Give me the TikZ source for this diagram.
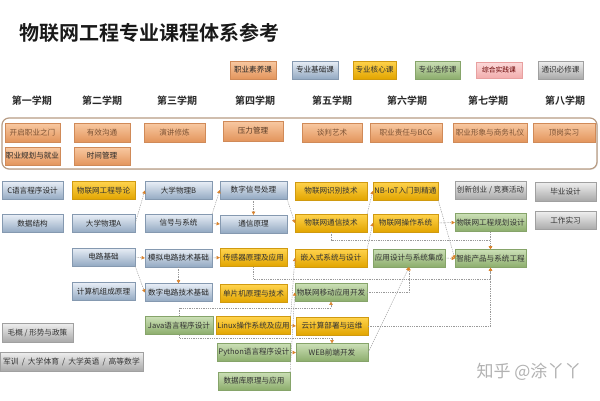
\documentclass[tikz,border=0pt]{standalone}
\usepackage{fontspec}
\newfontfamily\cjk{Noto Sans CJK SC}
\newfontfamily\cjkb{Noto Sans CJK SC Bold}
\usetikzlibrary{arrows.meta,shadows,calc}
\definecolor{blueT}{HTML}{E8EEF6}\definecolor{blueB}{HTML}{93A9C2}\definecolor{blueD}{HTML}{8599B0}
\definecolor{goldT}{HTML}{FFD34D}\definecolor{goldB}{HTML}{E2A500}\definecolor{goldD}{HTML}{D09A10}
\definecolor{greenT}{HTML}{CBDFB6}\definecolor{greenB}{HTML}{8CAD6C}\definecolor{greenD}{HTML}{86A46A}
\definecolor{grayT}{HTML}{EFEFEF}\definecolor{grayB}{HTML}{A9A9A9}\definecolor{grayD}{HTML}{A0A0A0}
\definecolor{oraT}{HTML}{F8C9A2}\definecolor{oraB}{HTML}{E3955C}\definecolor{oraD}{HTML}{D08A58}
\definecolor{pinkT}{HTML}{FCDADA}\definecolor{pinkB}{HTML}{F2ADAD}\definecolor{pinkD}{HTML}{E8A0A0}
\definecolor{frameC}{HTML}{B89C84}
\definecolor{arrC}{HTML}{D9822B}
\begin{document}
\begin{tikzpicture}[x=1pt,y=-1pt,
  base/.style={font=\cjk\fontsize{7.6}{8.5}\selectfont, inner sep=0.8pt, minimum height=18pt, line width=0.35pt,
    drop shadow={shadow xshift=0.8pt,shadow yshift=-0.8pt,opacity=0.25}},
  bluebox/.style={base, top color=blueT, bottom color=blueB, draw=blueD, text=black!85},
  goldbox/.style={base, top color=goldT, bottom color=goldB, draw=goldD, text=black!80},
  greenbox/.style={base, top color=greenT, bottom color=greenB, draw=greenD, text=black!80},
  graybox/.style={base, top color=grayT, bottom color=grayB, draw=grayD, text=black!80},
  orabox/.style={base, top color=oraT, bottom color=oraB, draw=oraD, text=black!85},
  fadetext/.style={text=black!40!oraD},
  legend/.style={base, font=\cjk\fontsize{6.8}{7.5}\selectfont, minimum height=16pt},
  sem/.style={font=\cjkb\fontsize{10}{11}\selectfont, text=black!85},
  con/.style={draw=black!40, line width=0.45pt, dash pattern=on 1.3pt off 1pt,
    -{Triangle[length=3.2pt,width=3.4pt,color=arrC]}},
  framebox/.style={draw=frameC, line width=1.2pt, rounded corners=7pt, fill=white,
    drop shadow={shadow xshift=0.8pt,shadow yshift=-0.8pt,opacity=0.2}}
]
\useasboundingbox[fill=white] (0,0) rectangle (600,400);

% title
\node[anchor=west, font=\cjkb\fontsize{20}{22}\selectfont, text=black!90] (title) at (16,33) {物联网工程专业课程体系参考};

% legend
\node[legend, orabox, minimum width=46pt] (l1) at (253,70) {职业素养课};
\node[legend, bluebox, minimum width=46pt] (l2) at (315,70) {专业基础课};
\node[legend, goldbox, minimum width=43pt] (l3) at (374.5,70) {专业核心课};
\node[legend, greenbox, minimum width=45pt] (l4) at (437.5,70) {专业选修课};
\node[legend, top color=pinkT, bottom color=pinkB, draw=pinkD, text=black!60!red, minimum width=46pt] (l5) at (499,70) {综合实践课};
\node[legend, graybox, minimum width=45pt] (l6) at (560.5,70) {通识必修课};

% semesters
\node[sem] (s1) at (32,101) {第一学期};
\node[sem] (s2) at (102,101) {第二学期};
\node[sem] (s3) at (177,101) {第三学期};
\node[sem] (s4) at (255,101) {第四学期};
\node[sem] (s5) at (332,101) {第五学期};
\node[sem] (s6) at (407,101) {第六学期};
\node[sem] (s7) at (488,101) {第七学期};
\node[sem] (s8) at (565,101) {第八学期};

% professional quality frame
\node[framebox, minimum width=595pt, minimum height=51pt] (frame) at (299.5,143.5) {};
\node[orabox, fadetext, minimum width=55pt, minimum height=19pt] (o1) at (32.5,132.5) {开启职业之门};
\node[orabox, fadetext, minimum width=56pt, minimum height=19pt] (o2) at (102,132.5) {有效沟通};
\node[orabox, fadetext, minimum width=61pt, minimum height=19pt] (o3) at (174.5,132.5) {演讲修炼};
\node[orabox, text=black!60!oraD, minimum width=60pt, minimum height=20pt] (o4) at (253,131) {压力管理};
\node[orabox, fadetext, minimum width=60pt, minimum height=19pt] (o5) at (332,132.5) {谈判艺术};
\node[orabox, fadetext, minimum width=72pt, minimum height=19pt] (o6) at (406,132.5) {职业责任与BCG};
\node[orabox, fadetext, minimum width=74pt, minimum height=19pt] (o7) at (490,132.5) {职业形象与商务礼仪};
\node[orabox, fadetext, minimum width=62pt, minimum height=19pt] (o8) at (564,132.5) {顶岗实习};
\node[orabox, minimum width=55pt] (o9) at (32.5,156) {职业规划与就业};
\node[orabox, minimum width=56pt] (o10) at (102,156) {时间管理};

% courses
\node[bluebox, minimum width=61pt] (c1) at (32.5,190.5) {C语言程序设计};
\node[bluebox, minimum width=61pt] (ds) at (32.5,223.5) {数据结构};
\node[goldbox, minimum width=63pt] (intro) at (103.5,190.5) {物联网工程导论};
\node[bluebox, minimum width=63pt] (phyA) at (103.5,223.5) {大学物理A};
\node[bluebox, minimum width=63pt] (circ) at (103.5,257) {电路基础};
\node[bluebox, minimum width=63pt] (coa) at (103.5,291.5) {计算机组成原理};
\node[bluebox, minimum width=67pt] (phyB) at (178.5,190.5) {大学物理B};
\node[bluebox, minimum width=67pt] (sig) at (178.5,223) {信号与系统};
\node[bluebox, minimum width=67pt] (ana) at (178.5,258) {模拟电路技术基础};
\node[bluebox, minimum width=67pt] (dig) at (178.5,292.5) {数字电路技术基础};
\node[bluebox, minimum width=67pt] (dsp) at (253.5,190) {数字信号处理};
\node[bluebox, minimum width=67pt] (comm) at (253.5,224) {通信原理};
\node[goldbox, minimum width=67pt] (sensor) at (253.5,257.5) {传感器原理及应用};
\node[goldbox, minimum width=67pt] (mcu) at (253.5,293.5) {单片机原理与技术};
\node[greenbox, minimum width=68pt] (java) at (179,325.5) {Java语言程序设计};
\node[goldbox, minimum width=73pt] (linux) at (253.5,325.5) {Linux操作系统及应用};
\node[greenbox, minimum width=72pt] (python) at (254,352.5) {Python语言程序设计};
\node[greenbox, minimum width=72pt] (db) at (254,381) {数据库原理与应用};
\node[goldbox, minimum width=72pt] (rfid) at (331,191) {物联网识别技术};
\node[goldbox, minimum width=72pt] (iotc) at (331,223) {物联网通信技术};
\node[goldbox, minimum width=72pt] (emb) at (331,258) {嵌入式系统与设计};
\node[greenbox, minimum width=72pt] (mobile) at (331,292.5) {物联网移动应用开发};
\node[goldbox, minimum width=72pt] (cloud) at (332,326) {云计算部署与运维};
\node[greenbox, minimum width=72pt] (web) at (332,352.5) {WEB前端开发};
\node[goldbox, minimum width=65pt] (nb) at (405.5,191) {NB-IoT入门到精通};
\node[goldbox, minimum width=65pt] (os) at (405.5,223) {物联网操作系统};
\node[greenbox, minimum width=72pt] (app) at (409,258) {应用设计与系统集成};
\node[graybox, minimum width=71pt] (innov) at (490.5,190) {创新创业 / 竞赛活动};
\node[greenbox, minimum width=71pt] (plan) at (490.5,222.5) {物联网工程规划设计};
\node[greenbox, minimum width=71pt] (smart) at (490.5,258.5) {智能产品与系统工程};
\node[graybox, minimum width=61pt, minimum height=19pt] (grad) at (565.5,191.5) {毕业设计};
\node[graybox, minimum width=61pt] (work) at (565.5,220.5) {工作实习};
\node[graybox, minimum width=71pt, minimum height=19pt] (mao) at (37.5,332.5) {毛概 / 形势与政策};
\node[graybox, font=\cjk\fontsize{7.8}{8.5}\selectfont, minimum width=143pt, minimum height=19pt] (jx) at (71.5,361.5) {军训 \,/\, 大学体育 \,/\, 大学英语 \,/\, 高等数学};

% connectors
\draw[con] (phyA.east) -- (phyB.west);
\draw[con] (circ.east) -- (ana.west);
\draw[con] (circ.south east) -- (dig.west);
\draw[con] (ana.south) -- (dig.north);
\draw[con] (sig.north east) -- (dsp.west);
\draw[con] (sig.east) -- (comm.west);
\draw[con] (dsp.south) -- (comm.north);
\draw[con] (ana.east) -- (sensor.west);
\draw[con] (dsp.south east) -- (iotc.west);
\draw[con] (linux.north east) -- (emb.west);
\draw[con] (db.north east) -- (mobile.west);
\draw[con] (sensor.south) -- ++(0,13) -| (smart.south);
\draw[con] (mobile.east) -| (app.south);
\draw[con] (web.east) -- (app.south);
\draw[con] (java.north) -- ++(0,-8) -| (mobile.south);
\draw[con] (java.south) -- ++(0,4) -| (web.north);
\draw[con] (linux.east) -- (cloud.west);
\draw[con] (python.east) -- (web.west);
\draw[con] (cloud.east) -| (smart.south);
\draw[con] (iotc.south) -- ++(0,8) -| (smart.north);
\draw[con] (plan.south) -- (smart.north);
\draw[con] (os.east) -- (plan.west);
\draw[con] (app.east) -- (smart.west);
\draw[con] (iotc.north east) -- (nb.west);
\draw[con] (emb.north east) -- (os.west);
\draw[con] (nb.south east) -- (smart.west);

% watermark
\node[font=\cjk\fontsize{17}{18}\selectfont, text=black!30] (wm) at (529,372) {知乎 @涂丫丫};
\end{tikzpicture}
\end{document}
